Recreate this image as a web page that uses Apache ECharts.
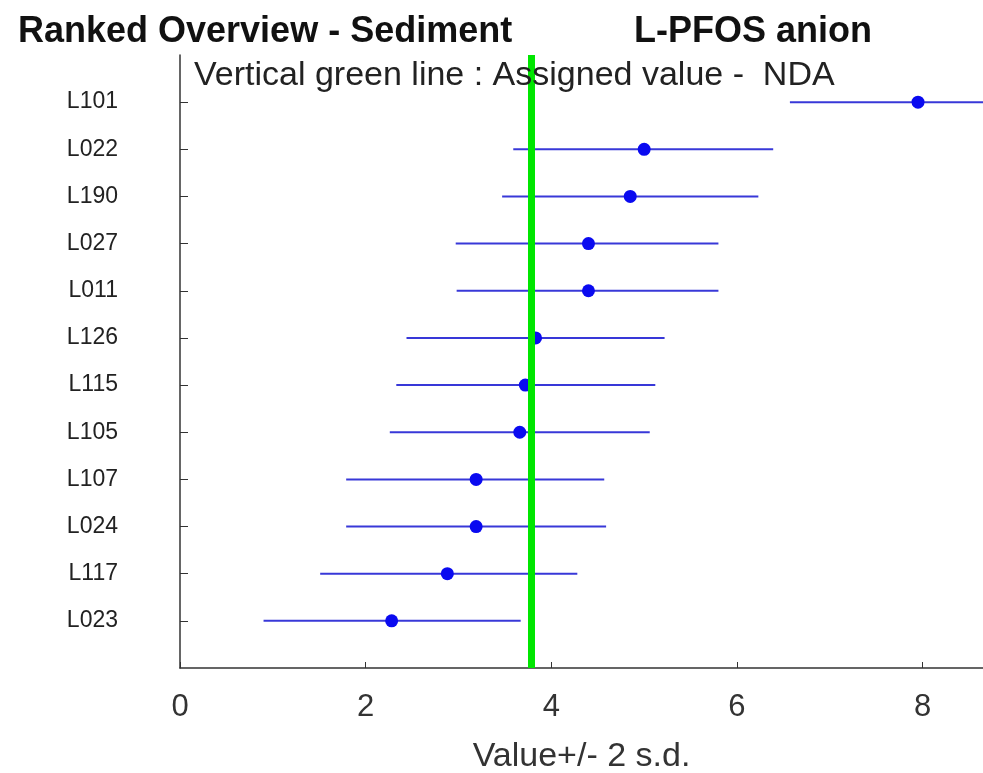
<!DOCTYPE html>
<html>
<head>
<meta charset="utf-8">
<script src="https://cdn.jsdelivr.net/npm/echarts@6/dist/echarts.min.js"></script>
<style>html,body{margin:0;padding:0;background:#fff}#c{width:983px;height:773px}</style>
</head>
<body>
<div id="c"></div>
<script>
// Labs, ranked from top (highest) to bottom
const labs = ['L101','L022','L190','L027','L011','L126','L115','L105','L107','L024','L117','L023'];
const values = [7.95, 5.00, 4.85, 4.40, 4.40, 3.83, 3.72, 3.66, 3.19, 3.19, 2.88, 2.28];
const lows   = [6.57, 3.59, 3.47, 2.97, 2.98, 2.44, 2.33, 2.26, 1.79, 1.79, 1.51, 0.90];
const highs  = [9.33, 6.39, 6.23, 5.80, 5.80, 5.22, 5.12, 5.06, 4.57, 4.59, 4.28, 3.67];
const assignedValue = 3.78;
const xTicks = [0, 2, 4, 6, 8];

const FONT = "'Liberation Sans',Arial,Helvetica,sans-serif";
const n = labs.length;
// y position: top lab at n, bottom at 1
const posOf = i => n - i;
const labelByPos = {};
labs.forEach((l, i) => { labelByPos[posOf(i)] = l; });

const barData = labs.map((l, i) => [lows[i], highs[i], posOf(i)]);
const pointData = labs.map((l, i) => [values[i], posOf(i)]);
const yPositions = labs.map((l, i) => posOf(i));

const chart = echarts.init(document.getElementById('c'), null, {renderer: 'canvas'});
chart.setOption({
  animation: false,
  backgroundColor: '#fff',
  title: [
    {text: 'Ranked Overview - Sediment', left: 13, top: 9,
     textStyle: {fontFamily: FONT, fontSize: 36, fontWeight: 'bold', color: '#111'}},
    {text: 'L-PFOS anion', left: 629, top: 9,
     textStyle: {fontFamily: FONT, fontSize: 36, fontWeight: 'bold', color: '#111'}},
    {text: 'Vertical green line : Assigned value -  NDA', left: 189, top: 54,
     textStyle: {fontFamily: FONT, fontSize: 34, fontWeight: 'normal', color: '#222'}}
  ],
  grid: {left: 180, right: 0, top: 55, bottom: 105, containLabel: false, outerBoundsMode: 'none'},
  xAxis: {
    type: 'value', min: 0, max: 8.65, interval: 2,
    axisLine: {lineStyle: {color: '#333', width: 1.5}},
    axisTick: {inside: true, length: 6, lineStyle: {color: '#333'}, customValues: xTicks},
    axisLabel: {fontFamily: FONT, fontSize: 31, color: '#333', margin: 24, customValues: xTicks},
    splitLine: {show: false},
    name: 'Value+/- 2 s.d.', nameLocation: 'middle', nameGap: 72,
    nameTextStyle: {fontFamily: FONT, fontSize: 34, color: '#333', verticalAlign: 'top'}
  },
  yAxis: {
    type: 'value', min: 0, max: n + 1, interval: 1,
    axisLine: {show: true, lineStyle: {color: '#333', width: 1.5}},
    axisTick: {show: true, inside: true, length: 8, lineStyle: {color: '#333'}, customValues: yPositions},
    axisLabel: {fontFamily: FONT, fontSize: 23, color: '#222', margin: 62, customValues: yPositions,
      formatter: v => labelByPos[v] || ''},
    splitLine: {show: false}
  },
  series: [
    {
      type: 'custom', z: 2, clip: true,
      data: barData,
      renderItem: (params, api) => {
        const p1 = api.coord([api.value(0), api.value(2)]);
        const p2 = api.coord([api.value(1), api.value(2)]);
        return {type: 'line', shape: {x1: p1[0], y1: p1[1], x2: p2[0], y2: p2[1]},
          style: {stroke: '#3838d8', lineWidth: 2}};
      },
      encode: {x: [0, 1], y: 2}
    },
    {
      type: 'scatter', z: 3, data: [], symbolSize: 0,
      markLine: {
        silent: true, symbol: 'none', label: {show: false},
        lineStyle: {color: '#00e600', width: 7, type: 'solid'},
        data: [{xAxis: assignedValue}]
      }
    },
    {
      type: 'scatter', z: 4, data: pointData, symbol: 'circle', symbolSize: 13,
      itemStyle: {color: '#0a0af0', opacity: 1}
    }
  ]
});
</script>
</body>
</html>
